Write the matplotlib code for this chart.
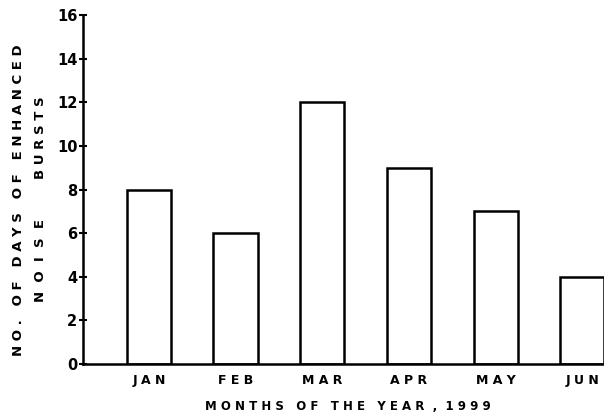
import matplotlib
matplotlib.use("Agg")
import matplotlib.pyplot as plt

months = ["JAN", "FEB", "MAR", "APR", "MAY", "JUN"]
days = [8, 6, 12, 9, 7, 4]
yticks = [0, 2, 4, 6, 8, 10, 12, 14, 16]

W, H = 604, 412
fig = plt.figure(figsize=(W / 100, H / 100), dpi=100)
x0, x1 = 83, 604
y0, y1 = 364, 15
ax = fig.add_axes([x0 / W, 1 - y0 / H, (x1 - x0) / W, (y0 - y1) / H])

pos = list(range(len(months)))
ax.bar(pos, days, width=0.51, facecolor="white", edgecolor="black", linewidth=1.8)
ax.set_xlim(-0.76, 5.25)
ax.set_ylim(0, 16)

for s in ["top", "right"]:
    ax.spines[s].set_visible(False)
for s in ["left", "bottom"]:
    ax.spines[s].set_linewidth(1.8)

ax.set_yticks(yticks)
ax.set_yticklabels([str(v) for v in yticks], fontsize=10.5, fontweight="bold",
                   family="DejaVu Sans")
ax.tick_params(axis="y", direction="inout", length=6, width=1.5, pad=1)
ax.set_xticks(pos)
ax.set_xticklabels([" ".join(m) for m in months], fontsize=9, fontweight="bold",
                   family="DejaVu Sans")
ax.tick_params(axis="x", length=0, pad=7)

fig.text(348 / W, 1 - 406 / H, "M O N T H S   O F   T H E   Y E A R  ,  1 9 9 9",
         ha="center", va="center", fontsize=8.5, fontweight="bold")
fig.text(19 / W, 1 - 200 / H, "N O .   O F   D A Y S   O F   E N H A N C E D",
         rotation=90, ha="center", va="center", fontsize=9.5, fontweight="bold")
fig.text(41 / W, 1 - 138 / H, "B U R S T S",
         rotation=90, ha="center", va="center", fontsize=9.5, fontweight="bold")
fig.text(41 / W, 1 - 260 / H, "N  O  I  S  E",
         rotation=90, ha="center", va="center", fontsize=9.5, fontweight="bold")

fig.savefig("out.png", dpi=100)
